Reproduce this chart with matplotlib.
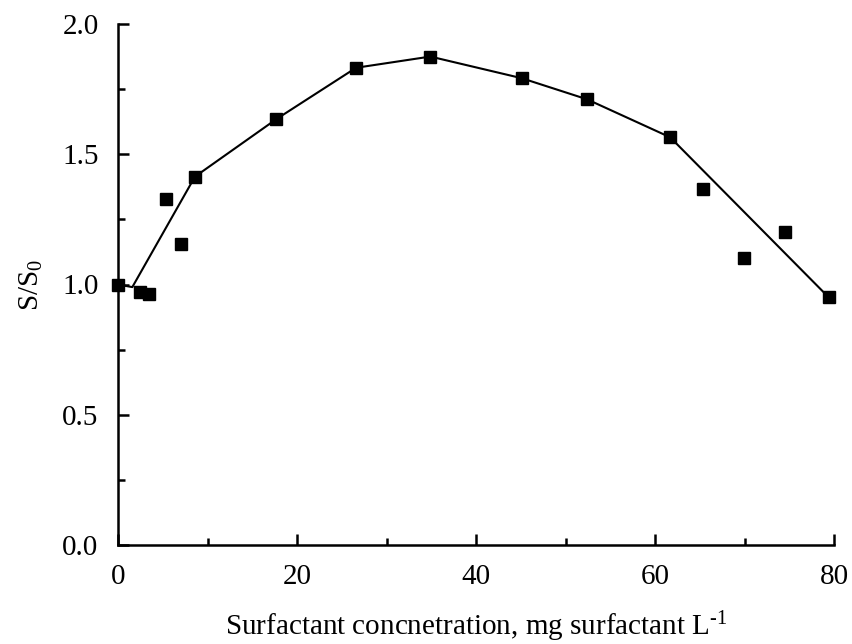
import numpy as np
import matplotlib
matplotlib.use("Agg")
import matplotlib.pyplot as plt
from matplotlib.ticker import MultipleLocator

# measured points
conc = [0.0, 2.5, 3.5, 5.4, 7.0, 8.6, 17.7, 26.6, 34.9, 45.1, 52.4, 61.7, 65.4, 69.9, 74.5, 79.4]
ratio = [1.00, 0.972, 0.963, 1.328, 1.155, 1.414, 1.635, 1.832, 1.875, 1.792, 1.711, 1.565, 1.367, 1.10, 1.20, 0.951]

# trend line
line_x = [0.0, 1.6, 8.6, 17.7, 26.6, 34.9, 45.1, 52.4, 61.7, 79.4]
line_y = [1.00, 0.99, 1.414, 1.635, 1.832, 1.875, 1.792, 1.711, 1.565, 0.951]

plt.rcParams['font.family'] = ['Liberation Serif', 'DejaVu Serif']
plt.rcParams['mathtext.fontset'] = 'custom'
plt.rcParams['mathtext.rm'] = 'Liberation Serif'
plt.rcParams['mathtext.it'] = 'Liberation Serif:italic'

fig = plt.figure(figsize=(8.52, 6.44), dpi=100)
ax = fig.add_axes([118/852, 1-545/644, (834-118)/852, (545-24)/644])

ax.plot(line_x, line_y, color='black', lw=1.5)
ax.plot(conc, ratio, 's', color='black', ms=8.5, clip_on=False)

ax.set_xlim(0, 80)
ax.set_ylim(0, 2.0)
ax.xaxis.set_major_locator(MultipleLocator(20))
ax.xaxis.set_minor_locator(MultipleLocator(10))
ax.yaxis.set_major_locator(MultipleLocator(0.5))
ax.yaxis.set_minor_locator(MultipleLocator(0.25))
ax.yaxis.set_major_formatter(plt.FuncFormatter(lambda v, p: f"{v:.1f}"))

for s in ['top', 'right']:
    ax.spines[s].set_visible(False)
for s in ['left', 'bottom']:
    ax.spines[s].set_linewidth(1.8)

ax.tick_params(which='both', direction='in', width=1.8, labelsize=21)
ax.tick_params(which='major', length=8)
ax.tick_params(which='minor', length=5)
ax.tick_params(axis='y', pad=14)
ax.tick_params(axis='x', pad=14)

ax.set_xlabel("Surfactant concnetration, mg surfactant L$^{\\text{-1}}$", fontsize=21, labelpad=14)
ax.set_ylabel("S/S$_0$", fontsize=21, labelpad=12)

fig.savefig("out.png", dpi=100)
